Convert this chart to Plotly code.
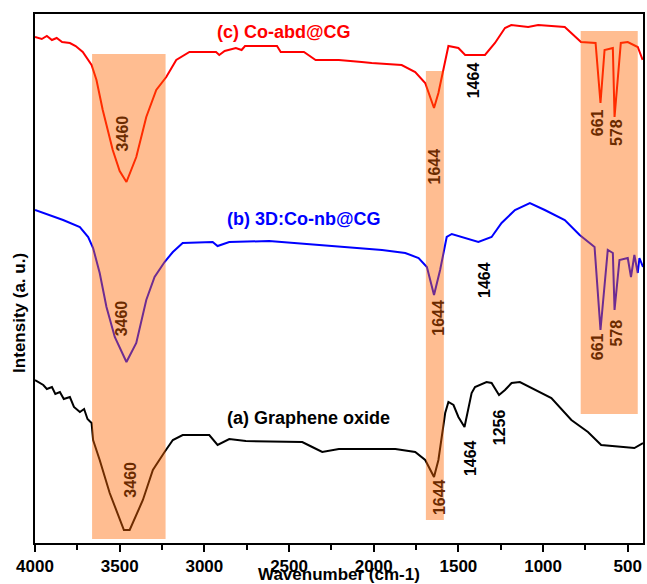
import plotly.graph_objects as go

# ---- data (wavenumber cm-1, intensity a.u.) ----
wn_c = [4000, 3960, 3930, 3900, 3872, 3840, 3794, 3760, 3718, 3666, 3637, 3600, 3541, 3500, 3460, 3402,
        3343, 3284, 3225, 3166, 3088, 2931, 2912, 2880, 2814, 2780, 2760, 2696, 2571, 2549, 2412, 2343,
        2206, 2071, 2012, 1835, 1755, 1696, 1644, 1618, 1578, 1559, 1500, 1460, 1343, 1284, 1225, 1188,
        1088, 1029, 872, 835, 776, 690, 661, 637, 588, 578, 541, 500, 441, 412]
int_c = [506, 504, 507, 503, 505, 501, 500, 497, 491, 478, 463, 433, 393, 372, 361, 386,
         426, 453, 466, 483, 491, 491, 488, 492, 495, 493, 497, 497, 497, 491, 491, 483,
         483, 481, 480, 478, 471, 460, 435, 450, 483, 497, 495, 488, 488, 500, 515, 518,
         516, 518, 516, 510, 501, 500, 440, 493, 495, 426, 500, 501, 496, 483]

wn_b = [4000, 3912, 3834, 3735, 3686, 3657, 3618, 3578, 3529, 3460, 3402, 3343, 3294, 3235, 3186, 3128,
        2951, 2922, 2853, 2618, 2461, 2206, 1951, 1814, 1735, 1686, 1644, 1608, 1569, 1539, 1461, 1382,
        1304, 1245, 1166, 1078, 990, 872, 784, 696, 661, 618, 588, 578, 549, 500, 481, 461, 441, 431, 410]
int_b = [333, 328, 323, 316, 306, 295, 270, 236, 206, 181, 200, 243, 266, 281, 291, 300,
         301, 297, 301, 302, 300, 296, 293, 290, 285, 276, 248, 273, 306, 309, 305, 301,
         306, 320, 333, 340, 333, 323, 308, 296, 213, 293, 290, 233, 283, 285, 266, 288, 270, 285, 276]

wn_a = [4000, 3975, 3951, 3930, 3900, 3880, 3853, 3830, 3794, 3770, 3735, 3710, 3690, 3666, 3657, 3618,
        3559, 3475, 3441, 3363, 3304, 3235, 3186, 3128, 2971, 2922, 2853, 2755, 2422, 2363, 2304, 2206,
        1872, 1755, 1696, 1644, 1618, 1578, 1559, 1529, 1500, 1464, 1422, 1402, 1334, 1304, 1260, 1225,
        1186, 1137, 1069, 951, 833, 735, 657, 539, 461, 410]
int_a = [163, 160, 158, 154, 156, 149, 151, 144, 146, 136, 131, 134, 124, 120, 103, 83,
         50, 13, 13, 43, 73, 91, 103, 108, 108, 98, 104, 102, 101, 96, 91, 94,
         94, 91, 83, 66, 83, 130, 141, 138, 126, 116, 150, 156, 161, 160, 148, 153,
         160, 161, 155, 145, 123, 111, 98, 96, 95, 100]

# shaded bands: (x0, x1, y0, y1)
bands_x0 = [3663, 1692, 778]
bands_x1 = [3229, 1586, 441]
bands_y0 = [4, 23, 129]
bands_y1 = [489, 472, 512]

# peak labels: text, wavenumber, intensity, inside band?
peak_text = ["3460", "1644", "1464", "661", "578",
             "3460", "1644", "1464", "661", "578",
             "3460", "1644", "1464", "1256"]
peak_wn = [3484, 1647, 1412, 680, 569,
           3490, 1622, 1349, 680, 572,
           3441, 1614, 1431, 1259]
peak_int = [410, 376, 463, 420, 410,
            225, 225, 263, 196, 210,
            63, 46, 85, 116]
peak_in_band = [True, True, False, True, True,
                True, True, False, True, True,
                True, True, False, False]

series_names = ["(c) Co-abd@CG", "(b) 3D:Co-nb@CG", "(a) Graphene oxide"]
series_colors = ["#FF0000", "#0000FF", "#000000"]
label_wn = [2532, 2412, 2386]
label_int = [511, 324, 125]

fig = go.Figure()
for wn, it, col, name in [(wn_c, int_c, series_colors[0], series_names[0]),
                          (wn_b, int_b, series_colors[1], series_names[1]),
                          (wn_a, int_a, series_colors[2], series_names[2])]:
    fig.add_trace(go.Scatter(x=wn, y=it, mode="lines", name=name,
                             line=dict(color=col, width=2), showlegend=False))

for x0, x1, y0, y1 in zip(bands_x0, bands_x1, bands_y0, bands_y1):
    fig.add_shape(type="rect", xref="x", yref="y", x0=x0, x1=x1, y0=y0, y1=y1,
                  fillcolor="rgba(255,103,0,0.43)", line=dict(width=0), layer="above")

for t, x, y, inb in zip(peak_text, peak_wn, peak_int, peak_in_band):
    fig.add_annotation(x=x, y=y, xref="x", yref="y", text="<b>%s</b>" % t, showarrow=False,
                       textangle=-90, font=dict(family="Liberation Sans", size=16,
                                                color="#6B2B00" if inb else "#000000"))

for name, col, x, y in zip(series_names, series_colors, label_wn, label_int):
    fig.add_annotation(x=x, y=y, xref="x", yref="y", text="<b>%s</b>" % name, showarrow=False,
                       font=dict(family="Liberation Sans", size=18, color=col))

fig.add_annotation(x=0.5, y=0, xref="paper", yref="paper", yshift=-31, yanchor="middle",
                   text="<b>Wavenumber (cm-1)</b>", showarrow=False,
                   font=dict(family="Liberation Sans", size=17, color="#000000"))
fig.add_annotation(x=0, y=0.435, xref="paper", yref="paper", xshift=-15, xanchor="center",
                   text="<b>Intensity (a. u.)</b>", showarrow=False, textangle=-90,
                   font=dict(family="Liberation Sans", size=17, color="#000000"))

fig.update_layout(
    width=647, height=584,
    margin=dict(l=35, r=2, t=14, b=41),
    paper_bgcolor="white", plot_bgcolor="white",
    xaxis=dict(range=[4000, 410], tickmode="array",
               tickvals=[4000, 3500, 3000, 2500, 2000, 1500, 1000, 500],
               ticks="outside", ticklen=7, tickwidth=1.5, tickcolor="black",
               minor=dict(tickvals=[3750, 3250, 2750, 2250, 1750, 1250, 750], ticks="outside",
                          ticklen=5, tickwidth=1.5, tickcolor="black"),
               showline=True, linecolor="black", linewidth=2, mirror=True,
               showgrid=False, zeroline=False, ticklabelstandoff=0,
               tickfont=dict(family="Liberation Sans", size=17, color="black", weight="bold")),
    yaxis=dict(range=[0, 529], showticklabels=False, ticks="",
               showline=True, linecolor="black", linewidth=2, mirror=True,
               showgrid=False, zeroline=False),
)

fig.write_html("out.html")
